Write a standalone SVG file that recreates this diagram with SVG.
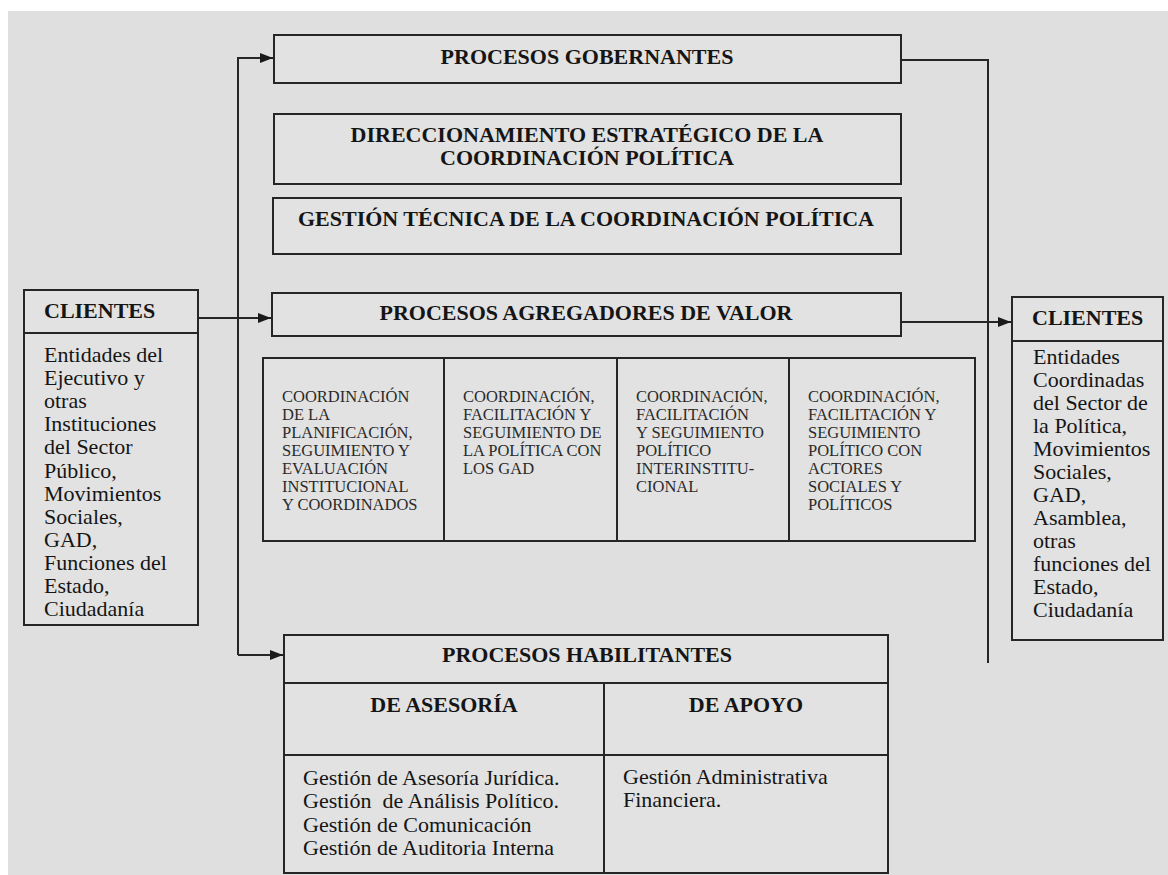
<svg xmlns="http://www.w3.org/2000/svg" width="1168" height="875" viewBox="0 0 1168 875">
<style>
  .box { fill: #e2e2e2; stroke: #262626; stroke-width: 2; }
  .ln { fill: none; stroke: #262626; stroke-width: 2; }
  .conn { fill: none; stroke: #262626; stroke-width: 2; }
  text { font-family: "Liberation Serif", "Times New Roman", serif; fill: #151515; }
  .h { font-size: 22px; font-weight: bold; }
  .hc { font-size: 22px; font-weight: bold; text-anchor: middle; }
  .b { font-size: 22px; }
  .c { font-size: 16.5px; fill: #2a2a2a; }
</style>
<defs>
  <marker id="arr" markerUnits="userSpaceOnUse" markerWidth="14" markerHeight="10" refX="13" refY="5" orient="auto">
    <path d="M0,0 L13,5 L0,10 z" fill="#1a1a1a"/>
  </marker>
</defs>
<rect x="0" y="0" width="1168" height="875" fill="#ffffff"/>
<rect x="8" y="11" width="1160" height="864" fill="#dfdfdf"/>

<g id="connectors">
  <path class="conn" d="M238,655 V58 H273" marker-end="url(#arr)"/>
  <path class="conn" d="M238,655 H283" marker-end="url(#arr)"/>
  <path class="conn" d="M198,318 H271" marker-end="url(#arr)"/>
  <path class="conn" d="M901,60 H988 V663"/>
  <path class="conn" d="M901,322 H1011" marker-end="url(#arr)"/>
</g>

<g id="gobernantes">
  <rect class="box" x="274" y="35" width="627" height="48"/>
  <text class="hc" x="587" y="64">PROCESOS GOBERNANTES</text>
</g>

<g id="direccionamiento">
  <rect class="box" x="274" y="114" width="627" height="70"/>
  <text class="hc" x="587" y="142">DIRECCIONAMIENTO ESTRATÉGICO DE LA</text>
  <text class="hc" x="587" y="165">COORDINACIÓN POLÍTICA</text>
</g>

<g id="gestion-tecnica">
  <rect class="box" x="273" y="198" width="628" height="56"/>
  <text class="hc" x="586" y="226">GESTIÓN TÉCNICA DE LA COORDINACIÓN POLÍTICA</text>
</g>

<g id="agregadores">
  <rect class="box" x="272" y="293" width="629" height="43"/>
  <text class="hc" x="586" y="320">PROCESOS AGREGADORES DE VALOR</text>
</g>

<g id="agregadores-columnas">
  <rect class="box" x="263" y="358" width="712" height="183"/>
  <line class="ln" x1="444" y1="358" x2="444" y2="541"/>
  <line class="ln" x1="617" y1="358" x2="617" y2="541"/>
  <line class="ln" x1="789" y1="358" x2="789" y2="541"/>
  <text class="c" x="282" y="402">COORDINACIÓN</text>
  <text class="c" x="282" y="420">DE LA</text>
  <text class="c" x="282" y="438">PLANIFICACIÓN,</text>
  <text class="c" x="282" y="456">SEGUIMIENTO Y</text>
  <text class="c" x="282" y="474">EVALUACIÓN</text>
  <text class="c" x="282" y="492">INSTITUCIONAL</text>
  <text class="c" x="282" y="510">Y COORDINADOS</text>

  <text class="c" x="463" y="402">COORDINACIÓN,</text>
  <text class="c" x="463" y="420">FACILITACIÓN Y</text>
  <text class="c" x="463" y="438">SEGUIMIENTO DE</text>
  <text class="c" x="463" y="456">LA POLÍTICA CON</text>
  <text class="c" x="463" y="474">LOS GAD</text>

  <text class="c" x="636" y="402">COORDINACIÓN,</text>
  <text class="c" x="636" y="420">FACILITACIÓN</text>
  <text class="c" x="636" y="438">Y SEGUIMIENTO</text>
  <text class="c" x="636" y="456">POLÍTICO</text>
  <text class="c" x="636" y="474">INTERINSTITU-</text>
  <text class="c" x="636" y="492">CIONAL</text>

  <text class="c" x="808" y="402">COORDINACIÓN,</text>
  <text class="c" x="808" y="420">FACILITACIÓN Y</text>
  <text class="c" x="808" y="438">SEGUIMIENTO</text>
  <text class="c" x="808" y="456">POLÍTICO CON</text>
  <text class="c" x="808" y="474">ACTORES</text>
  <text class="c" x="808" y="492">SOCIALES Y</text>
  <text class="c" x="808" y="510">POLÍTICOS</text>
</g>

<g id="clientes-entrada">
  <rect class="box" x="24" y="290" width="174" height="335"/>
  <line class="ln" x1="24" y1="333" x2="198" y2="333"/>
  <text class="h" x="44" y="318">CLIENTES</text>
  <text class="b" x="44" y="362">Entidades del</text>
  <text class="b" x="44" y="385.1">Ejecutivo y</text>
  <text class="b" x="44" y="408.2">otras</text>
  <text class="b" x="44" y="431.3">Instituciones</text>
  <text class="b" x="44" y="454.4">del Sector</text>
  <text class="b" x="44" y="477.5">Público,</text>
  <text class="b" x="44" y="500.6">Movimientos</text>
  <text class="b" x="44" y="523.7">Sociales,</text>
  <text class="b" x="44" y="546.8">GAD,</text>
  <text class="b" x="44" y="569.9">Funciones del</text>
  <text class="b" x="44" y="593">Estado,</text>
  <text class="b" x="44" y="616">Ciudadanía</text>
</g>

<g id="clientes-salida">
  <rect class="box" x="1012" y="297" width="151" height="343"/>
  <line class="ln" x1="1012" y1="341" x2="1163" y2="341"/>
  <text class="h" x="1032" y="325">CLIENTES</text>
  <text class="b" x="1033" y="364">Entidades</text>
  <text class="b" x="1033" y="387">Coordinadas</text>
  <text class="b" x="1033" y="410">del Sector de</text>
  <text class="b" x="1033" y="433">la Política,</text>
  <text class="b" x="1033" y="456">Movimientos</text>
  <text class="b" x="1033" y="479">Sociales,</text>
  <text class="b" x="1033" y="502">GAD,</text>
  <text class="b" x="1033" y="525">Asamblea,</text>
  <text class="b" x="1033" y="548">otras</text>
  <text class="b" x="1033" y="571">funciones del</text>
  <text class="b" x="1033" y="594">Estado,</text>
  <text class="b" x="1033" y="617">Ciudadanía</text>
</g>

<g id="habilitantes">
  <rect class="box" x="284" y="635" width="604" height="238"/>
  <line class="ln" x1="284" y1="683" x2="888" y2="683"/>
  <line class="ln" x1="284" y1="755" x2="888" y2="755"/>
  <line class="ln" x1="604" y1="683" x2="604" y2="873"/>
  <text class="hc" x="587" y="662">PROCESOS HABILITANTES</text>
  <text class="hc" x="444" y="712">DE ASESORÍA</text>
  <text class="hc" x="746" y="712">DE APOYO</text>
  <text class="b" x="303" y="785">Gestión de Asesoría Jurídica.</text>
  <text class="b" x="303" y="808.3" xml:space="preserve">Gestión  de Análisis Político.</text>
  <text class="b" x="303" y="831.6">Gestión de Comunicación</text>
  <text class="b" x="303" y="855">Gestión de Auditoria Interna</text>
  <text class="b" x="623" y="784">Gestión Administrativa</text>
  <text class="b" x="623" y="807">Financiera.</text>
</g>
</svg>
